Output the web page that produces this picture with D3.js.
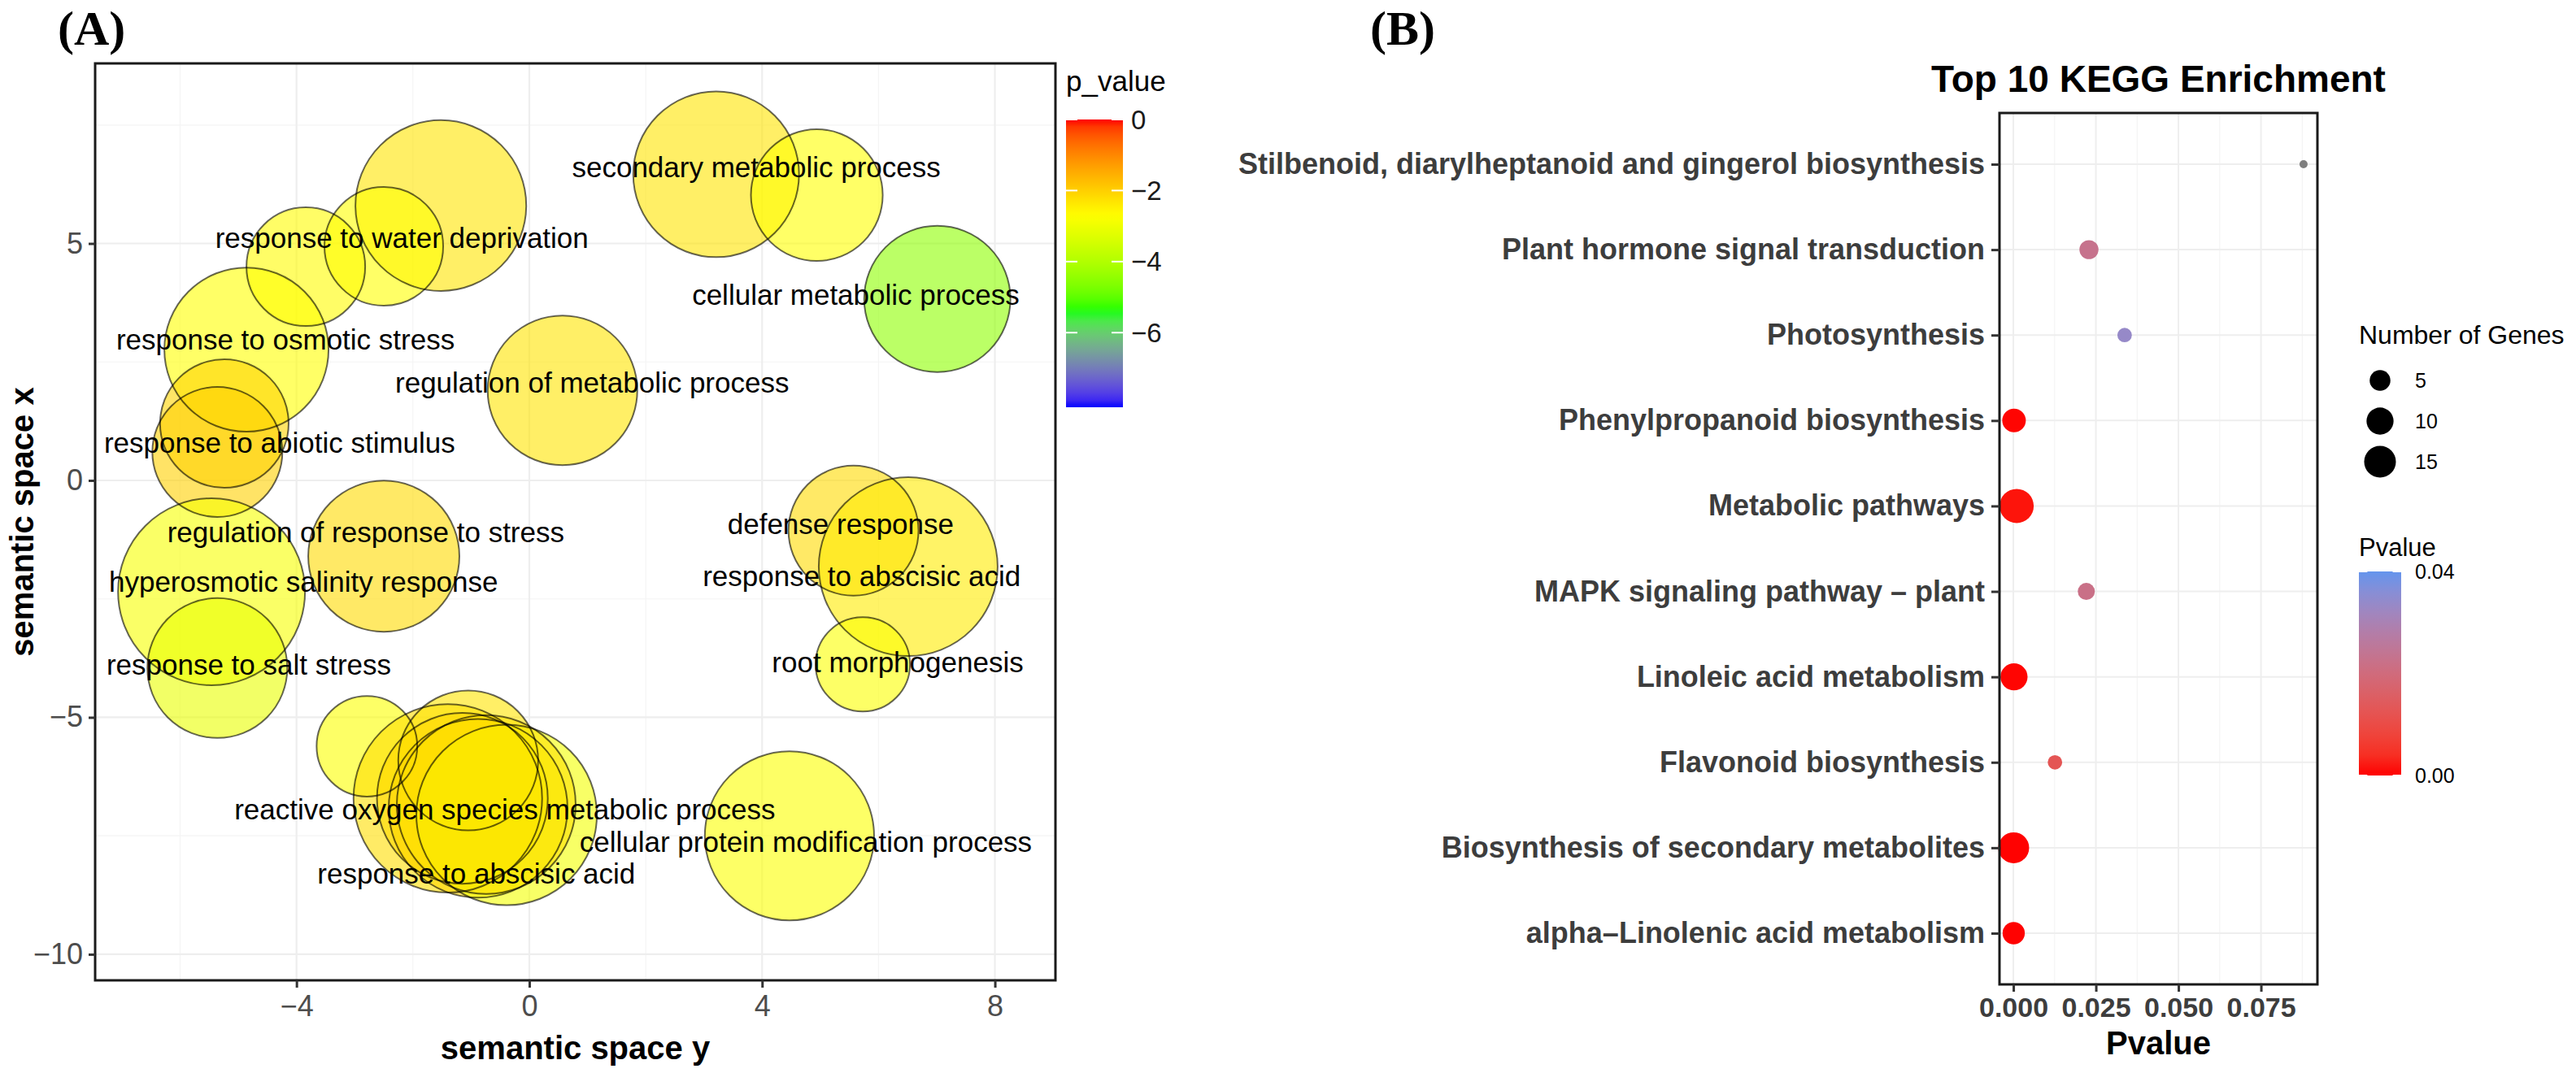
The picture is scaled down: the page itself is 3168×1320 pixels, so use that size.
<!DOCTYPE html>
<html><head><meta charset="utf-8">
<script src="https://cdn.jsdelivr.net/npm/d3@7"></script>
<style>
html,body{margin:0;padding:0;background:#fff;}
svg{display:block;}
</style></head><body>
<svg id="chart" width="3168" height="1320" font-family="Liberation Sans, Arial, sans-serif"></svg>
<script>
// ================= Panel A : REVIGO semantic space =================
const circleX    = [-1.52, -2.50, -3.84, -4.86, -5.24, -5.36, -5.46, -5.36, -2.50, 3.21, 4.94, 7.01, 0.57, 5.57, 6.51, 5.73, -2.79, -1.40, -1.05, -1.15, -0.88, -0.39, -0.74, 4.47];
const circleY    = [ 5.80,  4.94,  4.51,  2.76,  1.20,  0.60, -2.35, -3.96, -1.60, 6.46, 6.02, 3.83, 1.90, -1.06, -1.82, -3.88, -5.61, -6.71, -5.91, -6.71, -6.92, -7.06, -6.84, -7.50];
const circleSize = [ 3.83,  1.85,  1.85,  3.54,  2.17,  2.22,  4.59,  2.57,  3.00, 3.61, 2.28, 2.81, 2.94, 2.22, 4.20, 1.17, 1.33, 4.67, 2.57, 3.83, 4.20, 4.28, 4.20, 3.76];
const circleLogP = [-2.30, -2.70, -2.65, -2.70, -2.05, -2.00, -2.85, -3.10, -2.15, -2.30, -2.70, -4.50, -2.30, -2.15, -2.40, -2.75, -2.75, -2.20, -2.30, -2.15, -2.10, -2.90, -2.25, -2.75];

const labelText = ["response to water deprivation", "secondary metabolic process", "cellular metabolic process",
  "response to osmotic stress", "regulation of metabolic process", "response to abiotic stimulus",
  "regulation of response to stress", "hyperosmotic salinity response", "response to salt stress",
  "defense response", "response to abscisic acid", "root morphogenesis",
  "reactive oxygen species metabolic process", "cellular protein modification process", "response to abscisic acid"];
const labelX = [-2.19, 3.90, 5.61, -4.19, 1.08, -4.29, -2.81, -3.88, -4.82, 5.35, 5.71, 6.33, -0.42, 4.75, -0.91];
const labelY = [ 5.11, 6.60, 3.91,  2.97, 2.06,  0.79, -1.10, -2.14, -3.89, -0.93, -2.02, -3.84, -6.95, -7.63, -8.30];

const aXTicks = [-4, 0, 4, 8];
const aXMinor = [-6, -2, 2, 6];
const aYTicks = [-10, -5, 0, 5];
const aYMinor = [-7.5, -2.5, 2.5, 7.5];
const pMin = -8.1;
const pLegendTicks = [0, -2, -4, -6];
const gradientColours = ["#0000ff", "#00ff00", "#ffff00", "#ff0000"];   // R: blue, green, yellow, red

// ================= Panel B : KEGG enrichment =================
const keggPathways = ["Stilbenoid, diarylheptanoid and gingerol biosynthesis", "Plant hormone signal transduction",
  "Photosynthesis", "Phenylpropanoid biosynthesis", "Metabolic pathways", "MAPK signaling pathway \u2013 plant",
  "Linoleic acid metabolism", "Flavonoid biosynthesis", "Biosynthesis of secondary metabolites",
  "alpha\u2013Linolenic acid metabolism"];
const keggPvalue = [0.0879, 0.0229, 0.0337, 0.0002, 0.0010, 0.0221, 0.0002, 0.0126, 0.0001, 0.0001];
const keggGenes  = [1, 4, 2, 7, 18, 3, 10, 2, 14, 6];
const bXTicks = [0, 0.025, 0.05, 0.075];
const bXMinor = [0.0125, 0.0375, 0.0625, 0.0875];
const sizeBreaks = [5, 10, 15];
const pvalueBreaks = [0, 0.04];

// ================= Drawing =================
const svg = d3.select("#chart");
const defs = svg.append("defs");
svg.append("rect").attr("width", 3168).attr("height", 1320).attr("fill", "#fff");

// ---------- Panel A ----------
const A = {l: 117, r: 1298, t: 78, b: 1206};
const xA = d3.scaleLinear().domain([-7.46, 9.04]).range([A.l, A.r]);
const yA = d3.scaleLinear().domain([-10.55, 8.80]).range([A.b, A.t]);
const rA = d3.scaleSqrt().domain([0, 5]).range([0, 120]);
const colA = d3.scaleLinear().domain(d3.range(4).map(i => pMin + i * (0 - pMin) / 3))
  .range(gradientColours).interpolate(d3.interpolateLab).clamp(true);

const gA = svg.append("g");
defs.append("clipPath").attr("id", "clipA")
  .append("rect").attr("x", A.l).attr("y", A.t).attr("width", A.r - A.l).attr("height", A.b - A.t);

// grid
gA.selectAll(".gxm").data(aXMinor).join("line").attr("x1", d => xA(d)).attr("x2", d => xA(d))
  .attr("y1", A.t).attr("y2", A.b).attr("stroke", "#f4f4f4").attr("stroke-width", 1.2);
gA.selectAll(".gym").data(aYMinor).join("line").attr("y1", d => yA(d)).attr("y2", d => yA(d))
  .attr("x1", A.l).attr("x2", A.r).attr("stroke", "#f4f4f4").attr("stroke-width", 1.2);
gA.selectAll(".gx").data(aXTicks).join("line").attr("x1", d => xA(d)).attr("x2", d => xA(d))
  .attr("y1", A.t).attr("y2", A.b).attr("stroke", "#eeeeee").attr("stroke-width", 2.2);
gA.selectAll(".gy").data(aYTicks).join("line").attr("y1", d => yA(d)).attr("y2", d => yA(d))
  .attr("x1", A.l).attr("x2", A.r).attr("stroke", "#eeeeee").attr("stroke-width", 2.2);

const circles = circleX.map((x, i) => ({x, y: circleY[i], s: circleSize[i], p: circleLogP[i]}));
const cg = gA.append("g").attr("clip-path", "url(#clipA)");
cg.selectAll(".fill").data(circles).join("circle")
  .attr("cx", d => xA(d.x)).attr("cy", d => yA(d.y)).attr("r", d => rA(d.s))
  .attr("fill", d => colA(d.p)).attr("fill-opacity", 0.6);
cg.selectAll(".outline").data(circles).join("circle")
  .attr("cx", d => xA(d.x)).attr("cy", d => yA(d.y)).attr("r", d => rA(d.s))
  .attr("fill", "none").attr("stroke", "#000").attr("stroke-opacity", 0.6).attr("stroke-width", 2);

// labels
gA.selectAll(".lab").data(labelText).join("text")
  .attr("x", (d, i) => xA(labelX[i])).attr("y", (d, i) => yA(labelY[i])).attr("dy", "0.35em")
  .attr("text-anchor", "middle").attr("font-size", 35).attr("fill", "#000").text(d => d);

// panel border
gA.append("rect").attr("x", A.l).attr("y", A.t).attr("width", A.r - A.l).attr("height", A.b - A.t)
  .attr("fill", "none").attr("stroke", "#1a1a1a").attr("stroke-width", 3);

// axes
const axAB = gA.append("g").attr("transform", `translate(0,${A.b})`)
  .call(d3.axisBottom(xA).tickValues(aXTicks).tickSize(9).tickPadding(9).tickFormat(d3.format("d")));
const axAL = gA.append("g").attr("transform", `translate(${A.l},0)`)
  .call(d3.axisLeft(yA).tickValues(aYTicks).tickSize(8).tickPadding(7).tickFormat(d3.format("d")));
[axAB, axAL].forEach(ax => {
  ax.attr("font-family", "Liberation Sans, Arial, sans-serif");
  ax.select(".domain").remove();
  ax.selectAll("line").attr("stroke", "#333").attr("stroke-width", 3);
  ax.selectAll("text").attr("font-size", 36).attr("fill", "#4d4d4d");
});

gA.append("text").attr("x", (A.l + A.r) / 2).attr("y", 1303).attr("text-anchor", "middle")
  .attr("font-size", 40).attr("font-weight", "bold").text("semantic space y");
gA.append("text").attr("transform", `translate(41,${(A.t + A.b) / 2}) rotate(-90)`).attr("text-anchor", "middle")
  .attr("font-size", 40).attr("font-weight", "bold").text("semantic space x");

// colour legend A
const legA = {x: 1311, w: 70, t: 147, b: 501};
const yLegA = d3.scaleLinear().domain([0, pMin]).range([legA.t, legA.b]);
const gradA = defs.append("linearGradient").attr("id", "gradA")
  .attr("x1", 0).attr("x2", 0).attr("y1", 0).attr("y2", 1);
d3.range(0, 1.0001, 0.025).forEach(t => {
  gradA.append("stop").attr("offset", t).attr("stop-color", colA(t * pMin));
});
gA.append("text").attr("x", legA.x).attr("y", 112).attr("font-size", 35).text("p_value");
gA.append("rect").attr("x", legA.x).attr("y", legA.t).attr("width", legA.w).attr("height", legA.b - legA.t)
  .attr("fill", "url(#gradA)");
pLegendTicks.forEach(v => {
  const y = yLegA(v);
  gA.append("line").attr("x1", legA.x).attr("x2", legA.x + legA.w * 0.2).attr("y1", y).attr("y2", y).attr("stroke", "#fff").attr("stroke-width", 2);
  gA.append("line").attr("x1", legA.x + legA.w * 0.8).attr("x2", legA.x + legA.w).attr("y1", y).attr("y2", y).attr("stroke", "#fff").attr("stroke-width", 2);
});
gA.selectAll(".legAt").data(pLegendTicks).join("text")
  .attr("x", legA.x + legA.w + 10).attr("y", d => yLegA(d)).attr("dy", "0.35em")
  .attr("font-size", 33).attr("fill", "#1a1a1a").text(d => d3.format("d")(d));

// panel letters
svg.append("text").attr("x", 71).attr("y", 55).style("font-family", "'Liberation Serif', 'Times New Roman', serif")
  .attr("font-weight", "bold").attr("font-size", 60).text("(A)");
svg.append("text").attr("x", 1685).attr("y", 55).style("font-family", "'Liberation Serif', 'Times New Roman', serif")
  .attr("font-weight", "bold").attr("font-size", 60).text("(B)");

// ---------- Panel B ----------
const B = {l: 2459, r: 2850, t: 139, b: 1211};
const xB = d3.scaleLinear().domain([-0.0042, 0.0921]).range([B.l, B.r]);
const yB = d3.scalePoint().domain(keggPathways).range([202, 1148]);
const rUnit = d3.scaleLinear().domain([0, 1]).range([5, 21]);
const rB = v => rUnit(Math.sqrt((v - 1) / 17));
const colB = d3.scaleLinear().domain([0, 0.04]).range(["#ff0000", "#6495ed"]).interpolate(d3.interpolateLab);
const colBna = p => (p > 0.04 ? "#7f7f7f" : colB(p));

const gB = svg.append("g");
gB.selectAll(".bgm").data(bXMinor).join("line").attr("x1", d => xB(d)).attr("x2", d => xB(d))
  .attr("y1", B.t).attr("y2", B.b).attr("stroke", "#f4f4f4").attr("stroke-width", 1.2);
gB.selectAll(".bgx").data(bXTicks).join("line").attr("x1", d => xB(d)).attr("x2", d => xB(d))
  .attr("y1", B.t).attr("y2", B.b).attr("stroke", "#eeeeee").attr("stroke-width", 2);
gB.selectAll(".bgy").data(keggPathways).join("line").attr("y1", d => yB(d)).attr("y2", d => yB(d))
  .attr("x1", B.l).attr("x2", B.r).attr("stroke", "#eeeeee").attr("stroke-width", 2);

const kegg = keggPathways.map((k, i) => ({k, p: keggPvalue[i], n: keggGenes[i]}));
gB.selectAll(".pt").data(kegg).join("circle")
  .attr("cx", d => xB(d.p)).attr("cy", d => yB(d.k)).attr("r", d => rB(d.n))
  .attr("fill", d => colBna(d.p));

gB.append("rect").attr("x", B.l).attr("y", B.t).attr("width", B.r - B.l).attr("height", B.b - B.t)
  .attr("fill", "none").attr("stroke", "#1a1a1a").attr("stroke-width", 3);

const axBB = gB.append("g").attr("transform", `translate(0,${B.b})`)
  .call(d3.axisBottom(xB).tickValues(bXTicks).tickSize(9).tickPadding(7).tickFormat(d3.format(".3f")));
const axBL = gB.append("g").attr("transform", `translate(${B.l},0)`)
  .call(d3.axisLeft(yB).tickSize(10).tickPadding(8));
[axBB, axBL].forEach(ax => {
  ax.attr("font-family", "Liberation Sans, Arial, sans-serif");
  ax.select(".domain").remove();
  ax.selectAll("line").attr("stroke", "#333").attr("stroke-width", 3);
  ax.selectAll("text").attr("fill", "#3d3d3d").attr("font-weight", "bold");
});
axBB.selectAll("text").attr("font-size", 34);
axBL.selectAll("text").attr("font-size", 36);

gB.append("text").attr("x", (B.l + B.r) / 2).attr("y", 1297).attr("text-anchor", "middle")
  .attr("font-size", 40).attr("font-weight", "bold").text("Pvalue");
gB.append("text").attr("x", (B.l + B.r) / 2).attr("y", 113).attr("text-anchor", "middle")
  .attr("font-size", 46).attr("font-weight", "bold").text("Top 10 KEGG Enrichment");

// size legend
gB.append("text").attr("x", 2901).attr("y", 423).attr("font-size", 32).text("Number of Genes");
const ySize = d3.scalePoint().domain(sizeBreaks).range([468, 568]);
gB.selectAll(".sk").data(sizeBreaks).join("circle").attr("cx", 2927).attr("cy", d => ySize(d)).attr("r", d => rB(d)).attr("fill", "#000");
gB.selectAll(".sl").data(sizeBreaks).join("text").attr("x", 2970).attr("y", d => ySize(d)).attr("dy", "0.35em")
  .attr("font-size", 25).text(d => d);

// Pvalue colourbar
const legB = {x: 2901, w: 52, t: 703, b: 954};
const yLegB = d3.scaleLinear().domain([0, 0.04]).range([legB.b, legB.t]);
const gradB = defs.append("linearGradient").attr("id", "gradB")
  .attr("x1", 0).attr("x2", 0).attr("y1", 1).attr("y2", 0);
d3.range(0, 1.0001, 0.1).forEach(t => gradB.append("stop").attr("offset", t).attr("stop-color", colB(t * 0.04)));
gB.append("text").attr("x", legB.x).attr("y", 684).attr("font-size", 31).text("Pvalue");
gB.append("rect").attr("x", legB.x).attr("y", legB.t).attr("width", legB.w).attr("height", legB.b - legB.t).attr("fill", "url(#gradB)");
pvalueBreaks.forEach(v => {
  const y = yLegB(v);
  gB.append("line").attr("x1", legB.x).attr("x2", legB.x + legB.w * 0.2).attr("y1", y).attr("y2", y).attr("stroke", "#fff").attr("stroke-width", 2);
  gB.append("line").attr("x1", legB.x + legB.w * 0.8).attr("x2", legB.x + legB.w).attr("y1", y).attr("y2", y).attr("stroke", "#fff").attr("stroke-width", 2);
});
gB.selectAll(".pl").data(pvalueBreaks).join("text").attr("x", 2970).attr("y", d => yLegB(d)).attr("dy", "0.35em")
  .attr("font-size", 25).text(d => d3.format(".2f")(d));
</script>
</body></html>
